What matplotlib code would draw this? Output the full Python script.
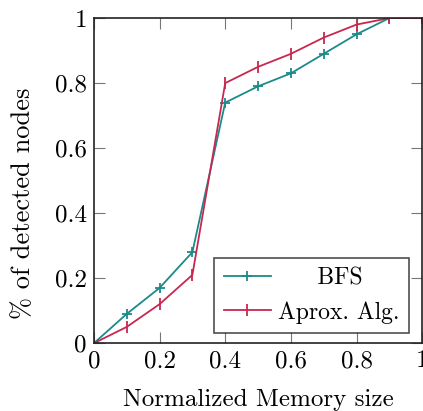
import numpy as np
import matplotlib.pyplot as plt

plt.rcParams['font.family'] = ['cmr10', 'DejaVu Serif']
plt.rcParams['axes.formatter.use_mathtext'] = True
plt.rcParams['mathtext.fontset'] = 'cm'

memory = [0, 0.1, 0.2, 0.3, 0.4, 0.5, 0.6, 0.7, 0.8, 0.9, 1.0]
bfs = [0, 0.09, 0.17, 0.28, 0.74, 0.79, 0.83, 0.89, 0.95, 1.0, 1.0]
aprox = [0, 0.05, 0.12, 0.21, 0.80, 0.85, 0.89, 0.94, 0.98, 1.0, 1.0]

teal = '#1b8a8a'
crimson = '#c8284f'

fig = plt.figure(figsize=(4.23, 4.11), dpi=100)
ax = fig.add_axes([0.222, 0.165, 0.776, 0.791])

ax.plot(memory, bfs, color=teal, lw=1.3, marker='+', ms=7, mew=1.3,
        label='     BFS')
ax.plot(memory, aprox, color=crimson, lw=1.3, marker='|', ms=8, mew=1.3,
        label='Aprox. Alg.')

ax.set_xlim(0, 1)
ax.set_ylim(0, 1)
ticks = [0, 0.2, 0.4, 0.6, 0.8, 1]
labels = ['0', '0.2', '0.4', '0.6', '0.8', '1']
ax.set_xticks(ticks, labels)
ax.set_yticks(ticks, labels)
ax.tick_params(direction='in', top=True, right=True, length=8, width=0.8,
               color='#777777', labelsize=18, pad=5)
for s in ax.spines.values():
    s.set_linewidth(1.2)
    s.set_color('#222222')

ax.set_xlabel('Normalized Memory size', fontsize=18, labelpad=12)
ax.set_ylabel('% of detected nodes', fontsize=19)
ax.yaxis.set_label_coords(-0.18, 0.43)

leg = ax.legend(loc='lower right', fontsize=17, frameon=True, fancybox=False,
                edgecolor='#222222', borderpad=0.4, handlelength=2.0,
                handletextpad=0.3, labelspacing=0.5, borderaxespad=0,
                bbox_to_anchor=(0.960, 0.031))
leg.get_frame().set_linewidth(1.2)

fig.savefig('out.png', dpi=100)
